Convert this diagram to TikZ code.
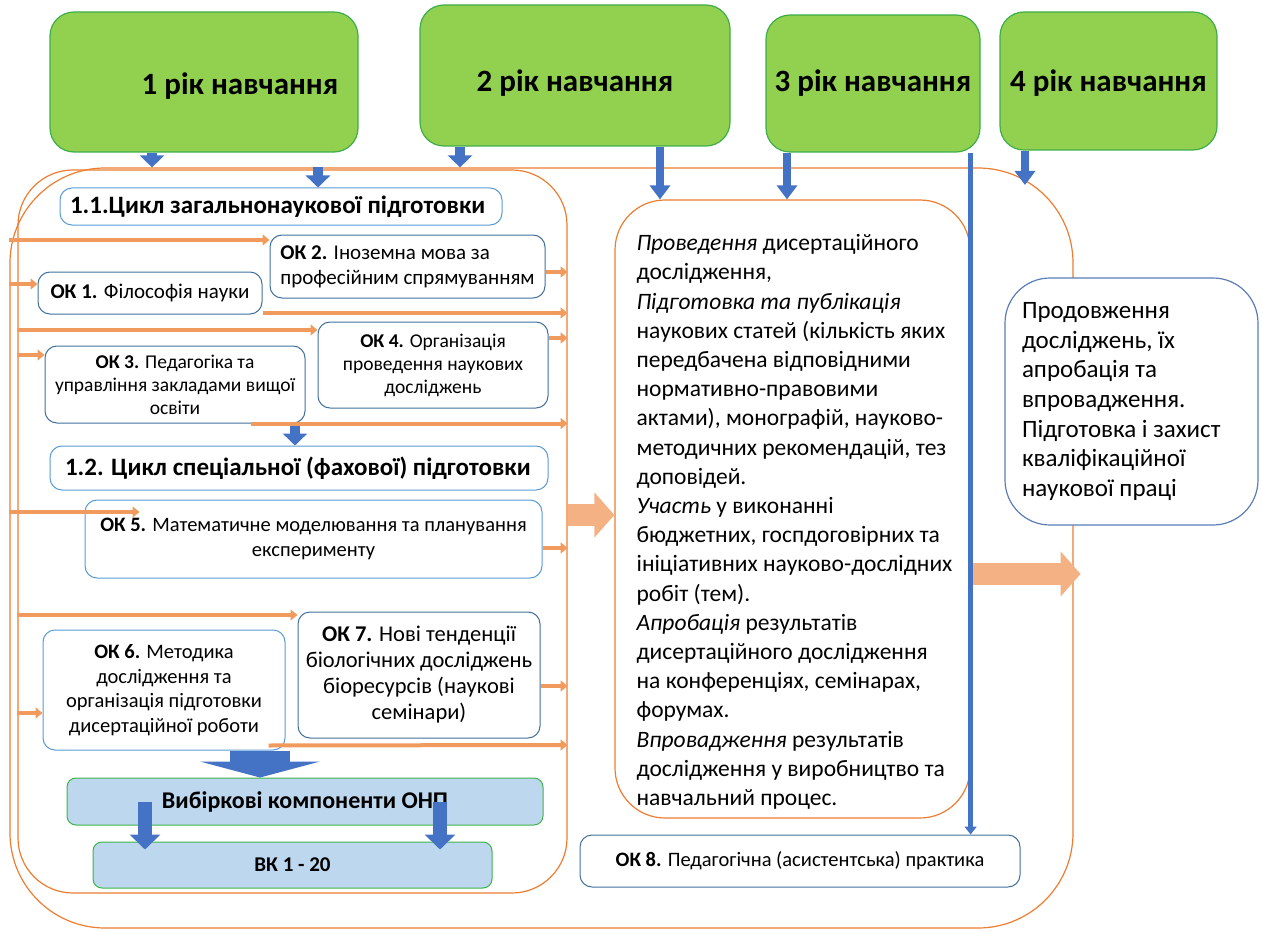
\documentclass[tikz,border=0pt]{standalone}
\usepackage{fontspec}
\setmainfont{Carlito}
\usetikzlibrary{arrows.meta}
\definecolor{yrgreen}{HTML}{92D050}
\definecolor{yredge}{HTML}{3FAE49}
\definecolor{blu}{HTML}{4472C4}
\definecolor{okedge}{HTML}{41719C}
\definecolor{oklight}{HTML}{5B9BD5}
\definecolor{orn}{HTML}{ED7D31}
\definecolor{ornlt}{HTML}{F4B183}
\definecolor{vkfill}{HTML}{BDD7EE}
\definecolor{vkedge}{HTML}{3DB54A}
\definecolor{pedge}{HTML}{5B7DB8}

\begin{document}
\begin{tikzpicture}[x=1pt,y=-1pt,
  yr/.style={shape=rectangle, rounded corners=24pt, draw=yredge, fill=yrgreen, line width=1.2pt, font=\fontsize{31}{37}\selectfont\bfseries},
  frm/.style={shape=rectangle, draw=orn, line width=1.2pt},
  ok/.style={shape=rectangle, rounded corners=12pt, draw=okedge, fill=white, line width=1pt, inner ysep=2pt, align=center, font=\fontsize{20.5}{24.5}\selectfont},
  okl/.style={ok, draw=oklight},
  hd/.style={okl, align=flush left, font=\fontsize{25}{30}\selectfont\bfseries},
  vk/.style={shape=rectangle, rounded corners=9pt, draw=vkedge, fill=vkfill, line width=1pt, font=\fontsize{24}{29}\selectfont\bfseries},
  barr/.style={draw=blu, line width=10pt, -{Triangle[width=24pt,length=12pt]}},
  barrl/.style={draw=blu, line width=8pt, -{Triangle[width=20pt,length=14pt]}},
  oarr/.style={draw=ornlt!55!orn, line width=4pt, -{Triangle[width=11pt,length=7pt]}},
  bigo/.style={draw=ornlt, line width=22pt, -{Triangle[width=44pt,length=20pt]}}]
\useasboundingbox (0,0) rectangle (1262,931);

\node [frm, rounded corners=95pt, minimum width=1063pt, minimum height=760pt] (F0) at (541.5,548) {};
\node [frm, rounded corners=55pt, minimum width=549pt, minimum height=723pt] (F1) at (292.5,531.5) {};

\node [frm, rounded corners=50pt, fill=white, minimum width=355pt, minimum height=618pt] (M) at (792.5,509) {};
\node [align=flush left, font=\fontsize{23.5}{29.2}\selectfont] (MT) at ([xshift=2pt,yshift=-13pt]M.center) {\textit{Проведення} дисертаційного\\дослідження,\\\textit{Підготовка та публікація}\\наукових статей (кількість яких\\передбачена відповідними\\нормативно-правовими\\актами), монографій, науково-\\методичних рекомендацій, тез\\доповідей.\\\textit{Участь} у виконанні\\бюджетних, госпдоговірних та\\ініціативних науково-дослідних\\робіт (тем).\\\textit{Апробація} результатів\\дисертаційного дослідження\\на конференціях, семінарах,\\форумах.\\\textit{Впровадження} результатів\\дослідження у виробництво та\\навчальний процес.};
\node [shape=rectangle, rounded corners=45pt, draw=pedge, fill=white, line width=1.2pt, minimum width=253pt, minimum height=247pt, text width=219pt, inner xsep=17pt, align=flush left, font=\fontsize{25}{29.7}\selectfont] (P) at (1131.5,401.5) {Продовження\\досліджень, їх\\апробація та\\впровадження.\\Підготовка і захист\\кваліфікаційної\\наукової праці};

\node [yr, minimum width=308pt, minimum height=140pt] (R1) at (204,82) {\hspace*{72pt}\raisebox{-13pt}[0pt][0pt]{1 рік навчання}};
\node [yr, minimum width=310pt, minimum height=141pt] (R2) at (575,75.5) {\raisebox{-16pt}[0pt][0pt]{2 рік навчання}};
\node [yr, minimum width=214pt, minimum height=137pt] (R3) at (873,83.5) {\raisebox{-8pt}[0pt][0pt]{3 рік навчання}};
\node [yr, minimum width=217pt, minimum height=138pt] (R4) at (1108.5,81) {\raisebox{-11pt}[0pt][0pt]{4 рік навчання}};

\node [hd, minimum width=442pt, minimum height=37pt, text width=422pt, inner xsep=10pt] (K11) at (281,206.5) {1.1.Цикл загальнонаукової підготовки};
\node [ok, align=flush left, minimum width=275pt, minimum height=63pt, font=\fontsize{21}{25}\selectfont] (K2) at (407.5,266.5) {\textbf{ОК 2.} Іноземна мова за\\професійним спрямуванням};
\node [ok, minimum width=224pt, minimum height=42pt, font=\fontsize{21}{25}\selectfont] (K1) at (150,293) {\textbf{ОК 1.} Філософія науки};
\node [ok, minimum width=230pt, minimum height=86pt, font=\fontsize{19.5}{23}\selectfont] (K4) at (433,365) {\textbf{ОК 4.} Організація\\проведення наукових\\досліджень};
\node [ok, minimum width=260pt, minimum height=77pt, font=\fontsize{19.5}{23}\selectfont] (K3) at (175,384.5) {\textbf{ОК 3.} Педагогіка та\\управління закладами вищої\\освіти};
\node [hd, minimum width=498pt, minimum height=44pt, text width=468pt, inner xsep=15pt] (K12) at (299,468) {1.2. Цикл спеціальної (фахової) підготовки};
\node [okl, minimum width=457pt, minimum height=78pt] (K5) at (313.5,539) {\textbf{ОК 5.} Математичне моделювання та планування\\експерименту};
\node [ok, minimum width=242pt, minimum height=126pt, font=\fontsize{22.5}{26}\selectfont] (K7) at (419,675) {\textbf{ОК 7.} Нові тенденції\\біологічних досліджень\\біоресурсів (наукові\\семінари)};
\node [okl, minimum width=242pt, minimum height=120pt] (K6) at (164,690) {\textbf{ОК 6.} Методика\\дослідження та\\організація підготовки\\дисертаційної роботи};
\node [vk, minimum width=476pt, minimum height=47pt] (V) at (305,801.5) {Вибіркові компоненти ОНП};
\node [vk, minimum width=399pt, minimum height=46pt, font=\fontsize{21}{25}\selectfont\bfseries] (W) at (292.5,865) {ВК 1 - 20};
\node [ok, minimum width=440pt, minimum height=52pt] (K8) at (800,861) {\textbf{ОК 8.} Педагогічна (асистентська) практика};
\coordinate (E4) at (1025,185);

\draw[barr] (152,0 |- R1.south) -- (152,0 |- F0.north);
\draw[barr] (460,0 |- R2.south) -- (460,0 |- F0.north);
\draw[barr] (318,0 |- F0.north) -- (318,0 |- K11.north);
\draw[barrl] (660,0 |- R2.south) -- (660,0 |- M.north);
\draw[barrl] (787,0 |- R3.south) -- (787,0 |- M.north);
\draw[barrl] (1025,0 |- R4.south) -- (E4);
\draw[barr] (295,0 |- K3.south) -- (295,0 |- K12.north);
\draw[draw=blu, line width=60pt, -{Triangle[width=120pt,length=16pt]}] (260,0 |- K6.south) -- (260,0 |- V.north);
\draw[barr, line width=14pt, -{Triangle[width=30pt,length=15pt]}, shorten >=-8pt] (145,0 |- V) -- (145,0 |- W.north);
\draw[barr, line width=14pt, -{Triangle[width=30pt,length=15pt]}, shorten >=-8pt] (440,0 |- V) -- (440,0 |- W.north);

\draw[oarr] (F0.west |- 0,240) -- (K2.west |- 0,240);
\draw[oarr] (F0.west |- 0,284) -- (K1.west |- 0,284);
\draw[oarr] (K2.east |- 0,272) -- (F1.east |- 0,272);
\draw[oarr] (K1.east |- 0,313) -- (F1.east |- 0,313);
\draw[oarr] (F1.west |- 0,330) -- (K4.west |- 0,330);
\draw[oarr] (K4.east |- 0,338) -- (F1.east |- 0,338);
\draw[oarr] (F1.west |- 0,355) -- (K3.west |- 0,355);
\draw[oarr] ([xshift=-55pt]K3.south east) -- (F1.east |- K3.south);
\draw[oarr, shorten >=-55pt] (F0.west |- 0,512) -- (K5.west |- 0,512);
\draw[oarr] (K5.east |- 0,548) -- (F1.east |- 0,548);
\draw[oarr] (F1.west |- 0,615) -- (K7.west |- 0,615);
\draw[oarr] (F1.west |- 0,713) -- (K6.west |- 0,713);
\draw[oarr] (K7.east |- 0,686) -- (F1.east |- 0,686);
\draw[oarr] ([xshift=-17pt,yshift=5pt]K6.south east) -- (F1.east |- 0,745);

\draw[bigo] (F1.east |- 0,515) -- (M.west |- 0,515);
\draw[bigo, shorten >=-7pt] (M.east |- 0,574) -- (F0.east |- 0,574);
\draw[draw=blu, line width=5pt, -{Triangle[width=12pt,length=8pt]}] (M.east |- R3.south) -- (M.east |- K8.north);
\end{tikzpicture}
\end{document}
